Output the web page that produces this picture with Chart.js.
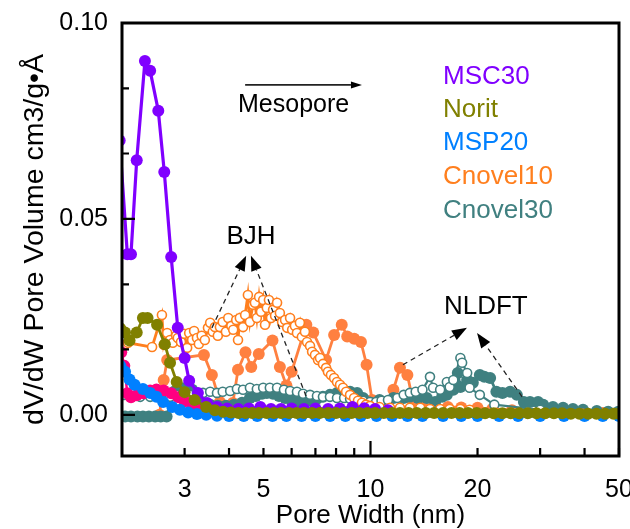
<!DOCTYPE html>
<html><head><meta charset="utf-8">
<script src="https://cdn.jsdelivr.net/npm/chart.js@4.4.1/dist/chart.umd.min.js"></script>
<style>html,body{margin:0;padding:0;background:#fff;}canvas{display:block;}</style>
</head><body>
<canvas id="c" width="630" height="529"></canvas>
<script>
const FONT = "'Liberation Sans', Arial, Helvetica, sans-serif";

// ---- axis ticks ----
const xTicks = [3,4,5,6,7,8,9,10,20,30,40,50];
const xMajorTicks = [10];
const xTickLabels = [3,5,10,20,50];
const yTicks = [0, 0.05, 0.10];
const yMinorTicks = [0.0167, 0.0333, 0.0667, 0.0833];

// ---- legend ----
const legendNames = ['MSC30','Norit','MSP20','Cnovel10','Cnovel30'];
const legendColors = ['#8000FF','#808000','#0080FF','#FF7F1E','#408080'];

// ---- series: [pore width nm, dV/dW] ----
const msc30 = [[1.97,0.070],[2.07,0.041],[2.12,0.041],[2.20,0.065],[2.32,0.0903],[2.40,0.0878],[2.53,0.0776],[2.63,0.062],[2.75,0.0403],[2.87,0.0222],[3.00,0.0145],[3.09,0.0087],[3.27,0.0056],[3.47,0.0030],[3.70,0.0020],[3.95,0.0016],[4.25,0.0015],[4.55,0.0016],[4.90,0.0020],[5.25,0.0015],[5.60,0.0015],[6.0,0.0016],[6.5,0.0015],[7.0,0.0016],[7.6,0.0015],[8.2,0.0016],[8.9,0.0020],[9.6,0.0017],[10.3,0.0015],[11.2,0.0012]];

const norit = [[1.98,0.022],[2.04,0.021],[2.10,0.019],[2.20,0.021],[2.29,0.0247],[2.36,0.0247],[2.51,0.023],[2.64,0.018],[2.73,0.0133],[2.85,0.0084],[3.00,0.0058],[3.20,0.0038],[3.45,0.0020],[3.65,0.0012],[3.85,0.0008],[4.05,0.0006],[4.25,0.0005],[4.45,0.0005],[4.65,0.0005],[4.85,0.0005],[5.1,0.0005],[5.35,0.0005],[5.6,0.0005],[5.9,0.0005],[6.2,0.0005],[6.5,0.0005],[6.85,0.0005],[7.2,0.0005],[7.6,0.0005],[8.0,0.0005],[8.4,0.0005],[8.85,0.0005],[9.3,0.0005],[9.8,0.0005],[10.3,0.0005],[10.9,0.0005],[11.5,0.0005],[12.1,0.0005],[12.8,0.0005],[13.5,0.0005],[14.3,0.0005],[15.1,0.0005],[16.0,0.0005],[16.9,0.0005],[17.8,0.0005],[18.8,0.0005],[19.9,0.0005],[21.0,0.0004],[22.2,0.0004],[23.5,0.0004],[24.8,0.0004],[26.2,0.0004],[27.7,0.0004],[29.3,0.0004],[31.0,0.0004],[32.8,0.0004],[34.6,0.0004],[36.6,0.0003],[38.7,0.0003],[40.9,0.0003],[43.2,0.0003],[45.7,0.0003],[48.3,0.0003],[50.0,0.0003]];

const msp20 = [[1.98,0.0125],[2.04,0.011],[2.10,0.009],[2.17,0.0077],[2.29,0.0066],[2.40,0.0056],[2.50,0.0046],[2.61,0.0033],[2.77,0.0020],[2.91,0.0013],[3.07,0.0006],[3.25,0.0002],[3.45,0.0],[3.7,-0.0002],[4.0,-0.0003],[4.4,-0.0003],[4.8,-0.0003],[5.3,-0.0003],[5.8,-0.0003],[6.4,-0.0003],[7.0,-0.0003],[7.7,-0.0003],[8.5,-0.0003],[9.4,-0.0003],[10.4,-0.0003],[11.5,-0.0003],[12.7,-0.0003],[14,-0.0003],[16,-0.0003],[18,-0.0003],[20,-0.0003],[23,-0.0003],[26,-0.0003],[30,-0.0003],[35,-0.0003],[40,-0.0003],[45,-0.0003],[50,-0.0003]];

const unlabeled = [[1.99,0.016],[2.03,0.0125],[2.07,0.0055],[2.12,0.0045],[2.20,0.0050],[2.30,0.0055],[2.40,0.0062],[2.50,0.0065],[2.62,0.0062],[2.75,0.0055],[2.88,0.0045],[3.00,0.0035],[3.15,0.0025],[3.35,0.0018],[3.60,0.0014],[4.00,0.0012]];

const cnovel10BJH = [[2.03,0.0179],[2.08,0.0184],[2.43,0.0173],[2.59,0.0255],[2.62,0.0179],[2.68,0.0209],[2.73,0.0191],[2.78,0.0184],[2.84,0.0202],[2.87,0.0196],[2.93,0.0186],[2.99,0.0207],[3.05,0.0171],[3.09,0.0209],[3.15,0.0191],[3.19,0.0214],[3.25,0.0196],[3.29,0.0181],[3.35,0.0202],[3.42,0.0191],[3.49,0.0222],[3.54,0.0235],[3.60,0.0212],[3.65,0.0224],[3.72,0.0202],[3.77,0.0224],[3.84,0.0237],[3.92,0.0212],[3.98,0.0247],[4.06,0.0227],[4.11,0.0217],[4.19,0.0242],[4.24,0.0191],[4.29,0.0247],[4.38,0.0224],[4.44,0.0255],[4.52,0.0306],[4.58,0.0237],[4.67,0.0281],[4.73,0.0286],[4.79,0.0247],[4.86,0.0301],[4.92,0.0263],[4.99,0.0293],[5.05,0.0230],[5.11,0.0273],[5.18,0.0293],[5.25,0.0247],[5.32,0.0268],[5.39,0.0253],[5.46,0.0286],[5.56,0.0260],[5.64,0.0237],[5.75,0.0242],[5.83,0.0222],[5.94,0.0247],[6.02,0.0217],[6.13,0.0227],[6.21,0.0209],[6.33,0.0235],[6.41,0.0199],[6.54,0.0212],[6.63,0.0186],[6.76,0.0176],[6.85,0.0161],[6.98,0.0153],[7.12,0.0140],[7.21,0.0145],[7.35,0.0130],[7.50,0.0120],[7.59,0.0110],[7.74,0.0102],[7.90,0.0094],[8.05,0.0084],[8.21,0.0077],[8.37,0.0069],[8.54,0.0059],[8.76,0.0051],[8.99,0.0043],[9.22,0.0036],[9.46,0.0031],[9.71,0.0026],[9.97,0.0023],[10.6,0.0020],[11.35,0.0018],[12.1,0.0018],[12.9,0.0018],[13.8,0.0018],[14.7,0.0015],[15.7,0.0015],[16.7,0.0015],[17.9,0.0015],[19.0,0.0013],[22.6,0.0005],[39.6,0.0003],[50,0.0003]];

const cnovel10NLDFT = [[2.55,0.0],[2.62,0.0089],[2.68,0.0140],[3.40,0.0153],[3.58,0.0102],[3.77,0.0033],[4.10,0.0030],[4.24,0.0115],[4.45,0.0160],[4.62,0.0122],[4.85,0.0155],[5.30,0.0190],[5.56,0.0122],[5.80,0.0075],[6.00,0.0110],[6.60,0.0230],[6.90,0.0210],[7.50,0.0140],[7.90,0.0204],[8.30,0.0230],[8.60,0.0200],[9.00,0.0194],[9.40,0.0186],[9.75,0.0128],[10.1,0.0038],[10.6,0.0020],[11.2,0.0025],[11.6,0.0064],[12.1,0.0120],[12.7,0.0102],[13.2,0.0030],[14.0,0.0022],[15.0,0.0020],[16.5,0.0020],[18.0,0.0019],[20.0,0.0018],[22.0,0.0015],[25.0,0.0012],[30.0,0.0010],[35.0,0.0008],[40.0,0.0006],[45.0,0.0005],[50.0,0.0004]];

const cnovel30BJH = [[2.03,0.0051],[2.12,0.0048],[2.25,0.0046],[2.40,0.0046],[2.51,0.0051],[2.62,0.0059],[2.73,0.0046],[2.86,0.0051],[2.97,0.0056],[3.11,0.0051],[3.25,0.0056],[3.38,0.0056],[3.54,0.0059],[3.70,0.0056],[3.84,0.0059],[4.03,0.0061],[4.21,0.0066],[4.38,0.0064],[4.58,0.0069],[4.79,0.0066],[4.99,0.0069],[5.21,0.0069],[5.46,0.0069],[5.71,0.0064],[5.94,0.0061],[6.21,0.0059],[6.46,0.0054],[6.76,0.0051],[7.07,0.0048],[7.35,0.0046],[7.69,0.0046],[8.05,0.0043],[8.43,0.0043],[8.76,0.0041],[9.17,0.0038],[9.53,0.0036],[9.97,0.0033],[10.37,0.0033],[10.74,0.0036],[11.2,0.0038],[11.9,0.0043],[12.4,0.0051],[12.9,0.0056],[13.4,0.0059],[14.0,0.0064],[14.7,0.0097],[15.0,0.0069],[15.7,0.0064],[16.4,0.0084],[16.7,0.0071],[17.1,0.0089],[17.9,0.0145],[18.1,0.0133],[18.7,0.0107],[19.0,0.0069],[20.3,0.0051],[22.3,0.0026],[30.0,0.0013],[39.3,0.0005],[50.0,0.0005]];

const cnovel30NLDFT = [[2.04,-0.0004],[2.12,-0.0004],[2.21,-0.0004],[2.29,-0.0004],[2.38,-0.0004],[2.48,-0.0004],[2.57,-0.0004],[2.67,-0.0004],[2.80,0.0059],[2.91,0.0069],[3.03,0.0069],[3.15,0.0064],[3.25,0.0048],[3.35,0.0033],[3.54,0.0026],[3.72,0.0023],[3.92,0.0023],[4.13,0.0026],[4.35,0.0031],[4.58,0.0043],[4.76,0.0048],[4.95,0.0054],[5.11,0.0056],[5.32,0.0054],[5.53,0.0048],[5.75,0.0043],[5.98,0.0038],[6.21,0.0033],[6.50,0.0033],[6.76,0.0036],[7.07,0.0041],[7.35,0.0046],[7.69,0.0051],[8.05,0.0056],[8.43,0.0061],[8.76,0.0059],[9.17,0.0056],[9.53,0.0043],[9.97,0.0031],[10.6,0.0038],[11.6,0.0043],[12.4,0.0043],[12.9,0.0046],[13.6,0.0043],[14.4,0.0043],[15.2,0.0033],[15.9,0.0046],[16.4,0.0051],[17.1,0.0064],[17.6,0.0107],[17.9,0.0071],[18.7,0.0089],[19.4,0.0082],[20.3,0.0102],[20.9,0.0097],[21.7,0.0094],[22.6,0.0059],[23.5,0.0056],[24.7,0.0059],[25.8,0.0051],[27.0,0.0033],[28.1,0.0033],[29.6,0.0033],[30.6,0.0026],[32.6,0.0020],[34.8,0.0018],[37.1,0.0015],[39.6,0.0013],[43.3,0.0010],[46.6,0.0008],[49.8,0.0008]];

// ---- annotation anchors (data units) ----
const mesoArrow = [[4.44,0.0842],[9.46,0.0842]];
const mesoText = [4.24,0.0791];
const bjhText = [4.61,0.0454];
const bjhArrows = [[[3.58,0.0222],[4.47,0.0406]],[[6.59,0.0048],[4.61,0.0406]]];
const nldftText = [21.1,0.0276];
const nldftArrows = [[[12.34,0.0128],[18.68,0.0222]],[[26.7,0.0046],[19.94,0.0209]]];
const legendPos = [16.0, [0.0862,0.0778,0.0694,0.0607,0.0520]];

const toXY = a => a.map(p => ({x:p[0], y:p[1]}));
function filled(data, color, lw, r){
  return {data: toXY(data), showLine:true, borderColor:color, borderWidth:lw,
    pointRadius:r, pointBackgroundColor:color, pointBorderColor:color, pointBorderWidth:0, pointHoverRadius:r};
}
function open(data, color, lw, r){
  return {data: toXY(data), showLine:true, borderColor:color, borderWidth:lw,
    pointRadius:r, pointBackgroundColor:'#ffffff', pointBorderColor:color, pointBorderWidth:1.6, pointHoverRadius:r};
}

const datasets = [
  filled(norit, '#808000', 2.8, 6),
  filled(msc30, '#8000FF', 3.2, 6),
  filled(msp20, '#0080FF', 2.8, 6),
  filled(unlabeled, '#FF0080', 2.5, 6),
  open(cnovel10BJH, '#FF7F1E', 2.8, 4.5),
  open(cnovel30BJH, '#408080', 2.2, 4.5),
  filled(cnovel30NLDFT, '#3F8080', 2.8, 6),
  filled(cnovel10NLDFT, '#FF8040', 2.8, 6)
];

function arrow(ctx, x1, y1, x2, y2, dashed, hl, hw){
  const ang = Math.atan2(y2-y1, x2-x1);
  const bx = x2 - hl*Math.cos(ang), by = y2 - hl*Math.sin(ang);
  ctx.save();
  ctx.strokeStyle = '#222'; ctx.lineWidth = dashed ? 1.3 : 1.8;
  ctx.setLineDash(dashed ? [5,4] : []);
  ctx.beginPath(); ctx.moveTo(x1,y1); ctx.lineTo(bx,by); ctx.stroke();
  ctx.setLineDash([]);
  ctx.fillStyle = '#000';
  ctx.beginPath();
  ctx.moveTo(x2,y2);
  ctx.lineTo(bx + hw/2*Math.sin(ang), by - hw/2*Math.cos(ang));
  ctx.lineTo(bx - hw/2*Math.sin(ang), by + hw/2*Math.cos(ang));
  ctx.closePath(); ctx.fill();
  ctx.restore();
}

const decor = {
  id:'decor',
  afterDraw(chart){
    const {ctx, chartArea:a, scales:{x, y}} = chart;
    ctx.save();
    ctx.strokeStyle = '#000'; ctx.lineWidth = 3;
    ctx.strokeRect(a.left, a.top, a.right-a.left, a.bottom-a.top);
    ctx.lineWidth = 2.2;
    ctx.beginPath();
    xTicks.forEach(v => {
      const px = x.getPixelForValue(v);
      const len = xMajorTicks.includes(v) ? 15 : 8;
      ctx.moveTo(px, a.bottom); ctx.lineTo(px, a.bottom - len);
    });
    yTicks.forEach(v => { const py = y.getPixelForValue(v); ctx.moveTo(a.left, py); ctx.lineTo(a.left+13, py); });
    yMinorTicks.forEach(v => { const py = y.getPixelForValue(v); ctx.moveTo(a.left, py); ctx.lineTo(a.left+7, py); });
    ctx.stroke();
    const P = p => [x.getPixelForValue(p[0]), y.getPixelForValue(p[1])];
    let s = P(mesoArrow[0]), e = P(mesoArrow[1]);
    arrow(ctx, s[0], s[1], e[0], e[1], false, 11, 7);
    ctx.fillStyle = '#000'; ctx.textBaseline = 'middle';
    ctx.font = '25px ' + FONT; ctx.textAlign = 'left';
    let t = P(mesoText); ctx.fillText('Mesopore', t[0], t[1]);
    ctx.font = '26px ' + FONT; ctx.textAlign = 'center';
    t = P(bjhText); ctx.fillText('BJH', t[0], t[1]);
    t = P(nldftText); ctx.fillText('NLDFT', t[0], t[1]);
    bjhArrows.concat(nldftArrows).forEach(ar => {
      const s1 = P(ar[0]), e1 = P(ar[1]);
      arrow(ctx, s1[0], s1[1], e1[0], e1[1], true, 15, 11);
    });
    ctx.textAlign = 'left'; ctx.font = '26px ' + FONT;
    const lx = x.getPixelForValue(legendPos[0]);
    legendNames.forEach((n, i) => {
      ctx.fillStyle = legendColors[i];
      ctx.fillText(n, lx, y.getPixelForValue(legendPos[1][i]));
    });
    ctx.restore();
  }
};

new Chart(document.getElementById('c'), {
  type:'scatter',
  data:{datasets},
  options:{
    responsive:false, animation:false, devicePixelRatio:1,
    layout:{padding:{left:0, right:11, top:23, bottom:0}},
    plugins:{legend:{display:false}, tooltip:{enabled:false}},
    elements:{line:{tension:0}},
    scales:{
      x:{
        type:'logarithmic', min:2, max:50, position:'bottom',
        grid:{display:false, drawTicks:false}, border:{display:false},
        afterBuildTicks: s => { s.ticks = xTicks.map(v => ({value:v})); },
        afterFit: s => { s.height = 73; s.paddingLeft = 0; s.paddingRight = 0; },
        ticks:{autoSkip:false, maxRotation:0, minRotation:0, padding:19, color:'#000',
          font:{family:FONT, size:25, lineHeight:1.2},
          callback: v => xTickLabels.includes(v) ? String(v) : ''},
        title:{display:true, text:'Pore Width (nm)', color:'#000', font:{family:FONT, size:26, lineHeight:1}, padding:{top:1, bottom:0}}
      },
      y:{
        min:-0.0105, max:0.10,
        grid:{display:false, drawTicks:false}, border:{display:false},
        afterBuildTicks: s => { s.ticks = yTicks.map(v => ({value:v})); },
        afterFit: s => { s.width = 122; s.paddingTop = 0; s.paddingBottom = 0; },
        ticks:{autoSkip:false, padding:14, color:'#000', font:{family:FONT, size:25},
          callback: v => Number(v).toFixed(2)},
        title:{display:true, text:'dV/dW Pore Volume cm3/g\u2022\u00C5', color:'#000', font:{family:FONT, size:28.5, lineHeight:1}, padding:{top:21, bottom:0}}
      }
    }
  },
  plugins:[decor]
});
</script>
</body></html>
